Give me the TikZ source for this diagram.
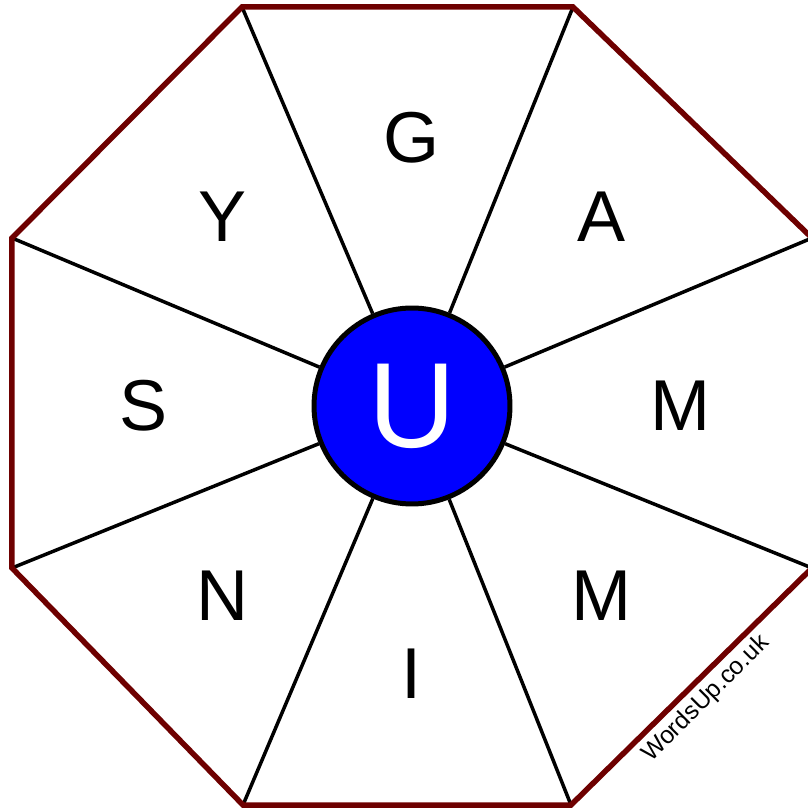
\documentclass[tikz,border=0pt]{standalone}
\usepackage{fontspec}
\setmainfont{Liberation Sans}
\usetikzlibrary{positioning}

\definecolor{rimred}{RGB}{110,0,0}

\begin{document}
\begin{tikzpicture}[
x=0.02cm, y=0.02cm,
hub/.style={circle, draw, line width=0.1cm, fill=blue, text=white, minimum size=3.92cm, inner sep=0pt, font=\fontsize{69}{69}\selectfont},
letter/.style={font=\fontsize{41}{41}\selectfont},
spoke/.style={line width=0.07cm},
rim/.style={draw=rimred, line width=0.11cm, line join=miter}
]
\useasboundingbox (-412,-404) rectangle (395,406);

% Ecken des Achtecks
\foreach \x/\y [count=\k from 0] in {400/168, 161/399, -170/399, -400/168, -400/-162, -169/-399, 159/-399, 400/-162}
  \coordinate (c\k) at (\x,\y);

% Mitte
\node[hub] (hub) at (0,0) {U};

% Speichen
\foreach \k in {0,...,7}
  \draw[spoke] (hub) -- (c\k);

% Rand
\draw[rim] (c0) -- (c1) -- (c2) -- (c3) -- (c4) -- (c5) -- (c6) -- (c7) -- cycle;

% Buchstaben
\foreach \a/\t [count=\i] in {90/G, 45/A, 0/M, -45/M, -90/I, -135/N, 180/S, 135/Y}
  \node[letter] (l\i) at (\a:268) {\t};

\node[rotate=45, font=\fontsize{14}{14}\selectfont] (site) at (294,-293) {WordsUp.co.uk};

\end{tikzpicture}
\end{document}
